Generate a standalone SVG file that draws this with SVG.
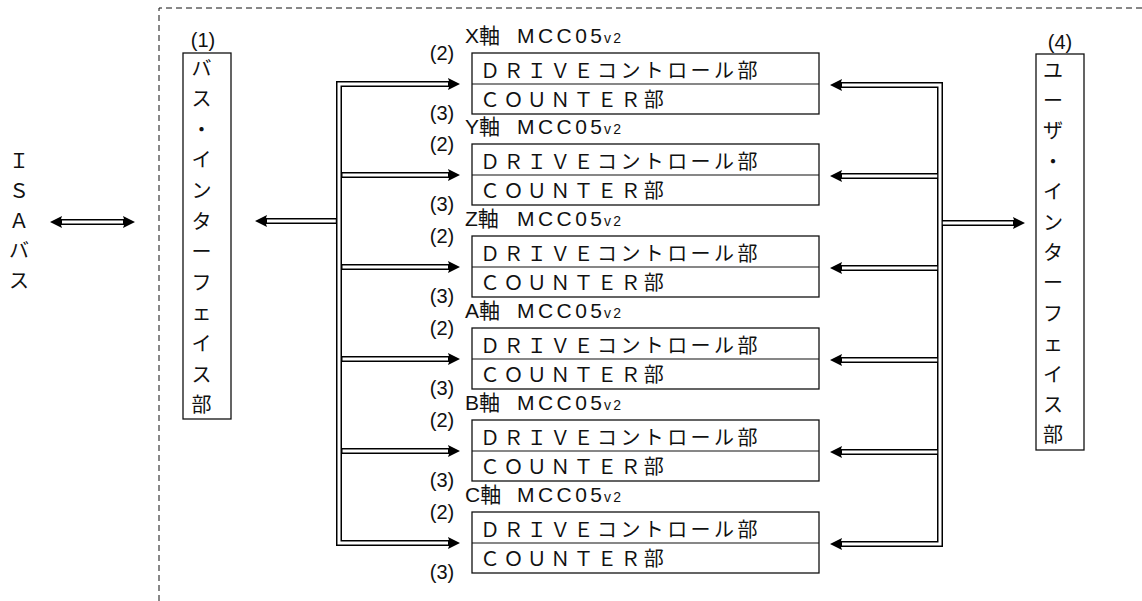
<svg xmlns="http://www.w3.org/2000/svg" width="1142" height="601" viewBox="0 0 1142 601">
<defs>
<style>
.bx{fill:#fff;stroke:#111;stroke-width:1.3}
.ln{fill:none;stroke:#111;stroke-width:1.2}
.bk{fill:none;stroke:#000;stroke-width:6;stroke-linejoin:miter}
.wh{fill:none;stroke:#fff;stroke-width:3;stroke-linejoin:miter}
.fw{font-family:"Noto Sans CJK JP","Noto Sans CJK SC",sans-serif;font-size:20px;letter-spacing:3.4px;fill:#111}
.vt{font-family:"Noto Sans CJK JP","Noto Sans CJK SC",sans-serif;font-size:20px;fill:#111}
.hd{font-family:"Liberation Sans","Noto Sans CJK JP",sans-serif;font-size:21px;fill:#111}
.sm{font-family:"Liberation Sans",sans-serif;font-size:14px;fill:#111}
.nb{font-family:"Liberation Sans",sans-serif;font-size:20px;fill:#111;text-anchor:middle}
</style>
<marker id="ah" markerUnits="userSpaceOnUse" markerWidth="14" markerHeight="14" viewBox="0 0 14 14" refX="2" refY="7" orient="auto-start-reverse">
<path d="M0,1 L12,7 L0,13 L2,7 z" fill="#000"/>
</marker>
</defs>
<rect width="1142" height="601" fill="#fff"/>
<path d="M159,601 V8 H1142" fill="none" stroke="#111" stroke-width="1" stroke-dasharray="6 4"/>

<g id="isa">
<text class="vt"><tspan x="9" y="168">Ｉ</tspan><tspan x="9" y="198">Ｓ</tspan><tspan x="9" y="228">Ａ</tspan><tspan x="9" y="258">バ</tspan><tspan x="9" y="288">ス</tspan></text>
</g>

<g id="bus-if">
<text class="nb" x="203" y="47">(1)</text>
<rect class="bx" x="183" y="53" width="48" height="366"/>
<text class="vt"><tspan x="191.5" y="75.5">バ</tspan><tspan x="191.5" y="106.1">ス</tspan><tspan x="191.5" y="136.7">・</tspan><tspan x="191.5" y="167.3">イ</tspan><tspan x="191.5" y="197.9">ン</tspan><tspan x="191.5" y="228.5">タ</tspan><tspan x="191.5" y="259.1">ー</tspan><tspan x="191.5" y="289.7">フ</tspan><tspan x="191.5" y="320.3">ェ</tspan><tspan x="191.5" y="350.9">イ</tspan><tspan x="191.5" y="381.5">ス</tspan><tspan x="191.5" y="412.1">部</tspan></text>
</g>

<g id="user-if">
<text class="nb" x="1060" y="49">(4)</text>
<rect class="bx" x="1036" y="54" width="48" height="396"/>
<text class="vt"><tspan x="1043" y="77.5">ユ</tspan><tspan x="1043" y="107.9">ー</tspan><tspan x="1043" y="138.3">ザ</tspan><tspan x="1043" y="168.7">・</tspan><tspan x="1043" y="199.1">イ</tspan><tspan x="1043" y="229.5">ン</tspan><tspan x="1043" y="259.9">タ</tspan><tspan x="1043" y="290.3">ー</tspan><tspan x="1043" y="320.7">フ</tspan><tspan x="1043" y="351.1">ェ</tspan><tspan x="1043" y="381.5">イ</tspan><tspan x="1043" y="411.9">ス</tspan><tspan x="1043" y="442.3">部</tspan></text>
</g>

<g id="axis-x" transform="translate(0,53)">
<text class="hd" x="465" y="-10">X軸</text><text class="hd" x="517" y="-10" textLength="85" lengthAdjust="spacing">MCC05</text><text class="sm" x="604" y="-10" textLength="17" lengthAdjust="spacing">v2</text>
<text class="nb" x="442" y="7">(2)</text><text class="nb" x="442" y="67">(3)</text>
<rect class="bx" x="472" y="0" width="347" height="61"/><line class="ln" x1="472" y1="31" x2="819" y2="31"/>
<text class="fw" x="480" y="25">ＤＲＩＶＥコントロール部</text><text class="fw" x="480" y="54">ＣＯＵＮＴＥＲ部</text>
</g>
<g id="axis-y" transform="translate(0,144)">
<text class="hd" x="465" y="-10">Y軸</text><text class="hd" x="517" y="-10" textLength="85" lengthAdjust="spacing">MCC05</text><text class="sm" x="604" y="-10" textLength="17" lengthAdjust="spacing">v2</text>
<text class="nb" x="442" y="7">(2)</text><text class="nb" x="442" y="67">(3)</text>
<rect class="bx" x="472" y="0" width="347" height="61"/><line class="ln" x1="472" y1="31" x2="819" y2="31"/>
<text class="fw" x="480" y="25">ＤＲＩＶＥコントロール部</text><text class="fw" x="480" y="54">ＣＯＵＮＴＥＲ部</text>
</g>
<g id="axis-z" transform="translate(0,236)">
<text class="hd" x="465" y="-10">Z軸</text><text class="hd" x="517" y="-10" textLength="85" lengthAdjust="spacing">MCC05</text><text class="sm" x="604" y="-10" textLength="17" lengthAdjust="spacing">v2</text>
<text class="nb" x="442" y="7">(2)</text><text class="nb" x="442" y="67">(3)</text>
<rect class="bx" x="472" y="0" width="347" height="61"/><line class="ln" x1="472" y1="31" x2="819" y2="31"/>
<text class="fw" x="480" y="25">ＤＲＩＶＥコントロール部</text><text class="fw" x="480" y="54">ＣＯＵＮＴＥＲ部</text>
</g>
<g id="axis-a" transform="translate(0,328)">
<text class="hd" x="465" y="-10">A軸</text><text class="hd" x="517" y="-10" textLength="85" lengthAdjust="spacing">MCC05</text><text class="sm" x="604" y="-10" textLength="17" lengthAdjust="spacing">v2</text>
<text class="nb" x="442" y="7">(2)</text><text class="nb" x="442" y="67">(3)</text>
<rect class="bx" x="472" y="0" width="347" height="61"/><line class="ln" x1="472" y1="31" x2="819" y2="31"/>
<text class="fw" x="480" y="25">ＤＲＩＶＥコントロール部</text><text class="fw" x="480" y="54">ＣＯＵＮＴＥＲ部</text>
</g>
<g id="axis-b" transform="translate(0,420)">
<text class="hd" x="465" y="-10">B軸</text><text class="hd" x="517" y="-10" textLength="85" lengthAdjust="spacing">MCC05</text><text class="sm" x="604" y="-10" textLength="17" lengthAdjust="spacing">v2</text>
<text class="nb" x="442" y="7">(2)</text><text class="nb" x="442" y="67">(3)</text>
<rect class="bx" x="472" y="0" width="347" height="61"/><line class="ln" x1="472" y1="31" x2="819" y2="31"/>
<text class="fw" x="480" y="25">ＤＲＩＶＥコントロール部</text><text class="fw" x="480" y="54">ＣＯＵＮＴＥＲ部</text>
</g>
<g id="axis-c" transform="translate(0,512)">
<text class="hd" x="465" y="-10">C軸</text><text class="hd" x="517" y="-10" textLength="85" lengthAdjust="spacing">MCC05</text><text class="sm" x="604" y="-10" textLength="17" lengthAdjust="spacing">v2</text>
<text class="nb" x="442" y="7">(2)</text><text class="nb" x="442" y="67">(3)</text>
<rect class="bx" x="472" y="0" width="347" height="61"/><line class="ln" x1="472" y1="31" x2="819" y2="31"/>
<text class="fw" x="480" y="25">ＤＲＩＶＥコントロール部</text><text class="fw" x="480" y="54">ＣＯＵＮＴＥＲ部</text>
</g>

<g id="connectors">
<g class="bk-layer">
<path class="bk" d="M60,222 H125" marker-start="url(#ah)" marker-end="url(#ah)"/>
<path class="bk" d="M450,84 H339 V543 H450" marker-start="url(#ah)" marker-end="url(#ah)"/>
<path class="bk" d="M341,175 H450" marker-end="url(#ah)"/>
<path class="bk" d="M341,267 H450" marker-end="url(#ah)"/>
<path class="bk" d="M341,359 H450" marker-end="url(#ah)"/>
<path class="bk" d="M341,451 H450" marker-end="url(#ah)"/>
<path class="bk" d="M337,221 H265" marker-end="url(#ah)"/>
<path class="bk" d="M840,85 H940 V544 H840" marker-start="url(#ah)" marker-end="url(#ah)"/>
<path class="bk" d="M939,176 H840" marker-end="url(#ah)"/>
<path class="bk" d="M939,268 H840" marker-end="url(#ah)"/>
<path class="bk" d="M939,360 H840" marker-end="url(#ah)"/>
<path class="bk" d="M939,452 H840" marker-end="url(#ah)"/>
<path class="bk" d="M941,223 H1015" marker-end="url(#ah)"/>
</g>
<g class="wh-layer">
<path class="wh" d="M62,222 H123"/>
<path class="wh" d="M448,84 H339 V543 H448"/>
<path class="wh" d="M342.5,175 H448"/>
<path class="wh" d="M342.5,267 H448"/>
<path class="wh" d="M342.5,359 H448"/>
<path class="wh" d="M342.5,451 H448"/>
<path class="wh" d="M335.8,221 H267"/>
<path class="wh" d="M842,85 H940 V544 H842"/>
<path class="wh" d="M937.2,176 H842"/>
<path class="wh" d="M937.2,268 H842"/>
<path class="wh" d="M937.2,360 H842"/>
<path class="wh" d="M937.2,452 H842"/>
<path class="wh" d="M942.8,223 H1013"/>
</g>
</g>
</svg>
